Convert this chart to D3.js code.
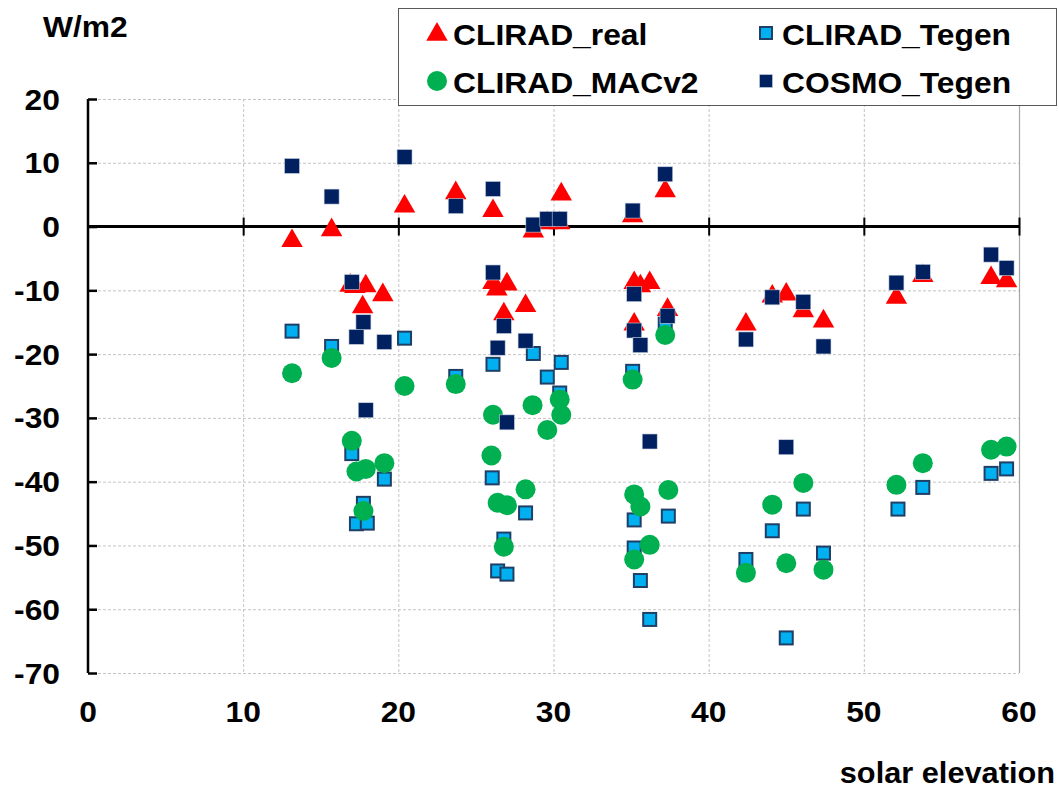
<!DOCTYPE html>
<html>
<head>
<meta charset="utf-8">
<script src="https://cdn.jsdelivr.net/npm/d3@7"></script>
<style>
  html, body { margin: 0; padding: 0; background: #fff; }
  svg { display: block; }
  text { font-family: "Liberation Sans", Arial, sans-serif; font-weight: bold; fill: #000; }
</style>
</head>
<body>
<svg id="chart" width="1059" height="791"></svg>
<script>
// Irradiance differences (W/m2) against solar elevation (degrees), one [elevation, value] pair per case
const clirad_real = [
  [13.15,-2.0],[15.7,-0.3],[16.9,-9.0],[17.2,-9.2],[17.7,-12.4],[17.9,-9.1],[19.0,-10.5],
  [20.4,3.4],[23.7,5.5],[26.1,2.7],[26.1,-8.6],[26.35,-9.6],[26.8,-13.5],[27.0,-8.8],
  [28.2,-12.2],[28.7,-0.5],[29.6,0.8],[30.4,0.8],[30.5,5.3],[35.1,1.9],[35.2,-8.6],
  [35.6,-9.1],[36.2,-8.6],[35.2,-15.1],[37.2,5.8],[37.35,-12.8],[42.4,-15.1],[44.1,-10.7],
  [45.0,-10.4],[46.1,-13.0],[47.4,-14.6],[52.1,-10.9],[53.8,-7.5],[58.2,-7.8],[59.2,-8.3]
];
const clirad_tegen = [
  [13.15,-16.4],[15.7,-18.8],[17.0,-35.6],[17.3,-46.6],[17.75,-43.4],[18.0,-46.5],[19.1,-39.6],
  [20.4,-17.5],[23.7,-23.5],[26.1,-21.6],[26.05,-39.4],[26.4,-54.0],[26.8,-49.0],[27.0,-54.5],
  [28.2,-44.9],[28.7,-19.9],[29.6,-23.6],[30.4,-26.1],[30.5,-21.3],[35.1,-22.7],[35.2,-46.0],
  [35.2,-50.4],[35.6,-55.5],[36.2,-61.6],[37.2,-15.3],[37.4,-45.4],[42.4,-52.2],[44.1,-47.7],
  [45.0,-64.5],[46.1,-44.3],[47.4,-51.2],[52.2,-44.3],[53.8,-40.9],[58.2,-38.7],[59.2,-38.0]
];
const clirad_macv2 = [
  [13.15,-23.0],[15.7,-20.6],[17.0,-33.6],[17.3,-38.4],[17.9,-38.0],[19.1,-37.1],[17.75,-44.6],
  [20.4,-25.0],[23.7,-24.7],[26.1,-29.5],[26.0,-35.9],[26.4,-43.3],[27.0,-43.7],[26.8,-50.2],
  [28.2,-41.2],[28.65,-28.0],[29.6,-31.9],[30.4,-27.1],[30.5,-29.5],[35.1,-24.0],[35.2,-42.0],
  [35.6,-43.9],[36.2,-49.9],[35.2,-52.2],[37.2,-17.0],[37.4,-41.3],[42.4,-54.3],[44.1,-43.6],
  [45.0,-52.8],[46.1,-40.2],[47.4,-53.8],[52.1,-40.5],[53.8,-37.1],[58.2,-35.0],[59.2,-34.5]
];
const cosmo_tegen = [
  [13.15,9.5],[15.7,4.7],[17.0,-8.7],[17.3,-17.3],[17.75,-15.0],[17.9,-28.8],[19.1,-18.1],
  [20.4,10.9],[23.7,3.2],[26.1,5.9],[26.1,-7.2],[26.4,-19.0],[26.8,-15.6],[27.0,-30.7],
  [28.2,-17.9],[28.7,0.3],[29.6,1.2],[30.4,1.2],[35.1,2.5],[35.2,-10.6],[35.2,-16.3],
  [35.6,-18.6],[36.2,-33.7],[37.2,8.2],[37.35,-14.0],[42.4,-17.7],[44.1,-11.1],[45.0,-34.6],
  [46.1,-11.8],[47.4,-18.8],[52.1,-8.8],[53.8,-7.1],[58.2,-4.4],[59.2,-6.5]
];

const seriesNames = ["CLIRAD_real", "CLIRAD_Tegen", "CLIRAD_MACv2", "COSMO_Tegen"];
const xTicks = [0, 10, 20, 30, 40, 50, 60];
const yTicks = [20, 10, 0, -10, -20, -30, -40, -50, -60, -70];
const yUnit = "W/m2";
const xTitle = "solar elevation";

const svg = d3.select("#chart");
const x = d3.scaleLinear().domain([0, 60]).range([88, 1019]);
const y = d3.scaleLinear().domain([-70, 20]).range([673, 99]);
const stretch = 1.06; // glyphs are drawn slightly wider than the font's natural width

function label(g, tx, ty, str, anchor, size) {
  return g.append("text")
    .attr("transform", `translate(${tx},${ty}) scale(${stretch},1)`)
    .attr("text-anchor", anchor)
    .style("font-size", size + "px")
    .text(str);
}

// gridlines
const grid = svg.append("g").attr("stroke", "#c4c4c4").attr("stroke-width", 1).attr("stroke-dasharray", "3,2");
grid.selectAll("line.h").data(yTicks.filter(d => d !== 0)).join("line")
  .attr("x1", x(0)).attr("x2", x(60))
  .attr("y1", d => y(d) + 0.5).attr("y2", d => y(d) + 0.5);
grid.selectAll("line.v").data(xTicks.filter(d => d > 0 && d < 60)).join("line")
  .attr("x1", d => x(d) + 0.5).attr("x2", d => x(d) + 0.5)
  .attr("y1", y(20)).attr("y2", y(-70));
// right border of the plot area
svg.append("line").attr("x1", x(60) + 0.5).attr("x2", x(60) + 0.5)
  .attr("y1", y(20)).attr("y2", y(-70)).attr("stroke", "#a6a6a6").attr("stroke-width", 1.2);

// y axis with inward ticks
const yAxis = d3.axisRight(y).tickValues(yTicks).tickSize(9).tickFormat("");
const yg = svg.append("g").attr("transform", `translate(${x(0)},0)`).call(yAxis);
yg.select(".domain").attr("stroke", "#000").attr("stroke-width", 2.5).attr("d", `M0,${y(20)}V${y(-70)}`);
yg.selectAll(".tick line").attr("stroke", "#000").attr("stroke-width", 2.5);

// x axis along zero with crossing ticks
const xAxis = d3.axisBottom(x).tickValues(xTicks.filter(d => d > 0)).tickSize(0).tickFormat("");
const xg = svg.append("g").attr("transform", `translate(0,${y(0)})`).call(xAxis);
xg.select(".domain").attr("stroke", "#000").attr("stroke-width", 3).attr("d", `M${x(0)},0H${x(60)}`);
xg.selectAll(".tick line").attr("stroke", "#000").attr("stroke-width", 2).attr("y1", -9).attr("y2", 9);

// tick labels and titles
const labels = svg.append("g");
yTicks.forEach(t => label(labels, 60, y(t) + 10.5, t, "end", 30));
xTicks.forEach(t => label(labels, x(t), 722, t, "middle", 30));
label(labels, 43, 37, yUnit, "start", 30);
label(labels, 1055, 783, xTitle, "end", 29);

// markers
const triangle = d3.symbol().type(d3.symbolTriangle).size(200);
function drawTriangles(g, data, cx, cy) {
  g.selectAll("path").data(data).join("path")
    .attr("d", triangle)
    .attr("transform", d => `translate(${cx(d)},${cy(d) + 1.5})`)
    .attr("fill", "#ff0000");
}
function drawSquares(g, data, cx, cy, s, fill, stroke, sw) {
  g.selectAll("rect").data(data).join("rect")
    .attr("x", d => cx(d) - s / 2).attr("y", d => cy(d) - s / 2)
    .attr("width", s).attr("height", s)
    .attr("fill", fill).attr("stroke", stroke).attr("stroke-width", sw);
}
function drawCircles(g, data, cx, cy, r) {
  g.selectAll("circle").data(data).join("circle")
    .attr("cx", cx).attr("cy", cy).attr("r", r).attr("fill", "#00b050");
}
const px = d => x(d[0]), py = d => y(d[1]);
const marks = svg.append("g");
drawTriangles(marks.append("g"), clirad_real, px, py);
drawSquares(marks.append("g"), clirad_tegen, px, py, 13, "#00b0f0", "#1f3f66", 2);
drawCircles(marks.append("g"), clirad_macv2, px, py, 10);
drawSquares(marks.append("g"), cosmo_tegen, px, py, 15, "#002060", "#c9d2e0", 0.6);

// legend
const lg = svg.append("g");
lg.append("rect").attr("x", 398.5).attr("y", 8.5).attr("width", 658).attr("height", 97)
  .attr("fill", "#fff").attr("stroke", "#595959").attr("stroke-width", 1);
const legendItems = [
  { name: seriesNames[0], mx: 437, my: 33, kind: "tri" },
  { name: seriesNames[1], mx: 766, my: 33, kind: "sq" },
  { name: seriesNames[2], mx: 437, my: 81, kind: "circ" },
  { name: seriesNames[3], mx: 766, my: 81, kind: "dsq" }
];
legendItems.forEach(it => {
  const g = lg.append("g");
  if (it.kind === "tri") drawTriangles(g, [0], () => it.mx, () => it.my);
  if (it.kind === "sq") drawSquares(g, [0], () => it.mx, () => it.my, 12, "#00b0f0", "#1f3f66", 2);
  if (it.kind === "circ") drawCircles(g, [0], () => it.mx, () => it.my, 10);
  if (it.kind === "dsq") drawSquares(g, [0], () => it.mx, () => it.my, 13, "#002060", "#c9d2e0", 0.6);
  label(lg, it.mx + 16, it.my + 11.5, it.name, "start", 30);
});
</script>
</body>
</html>
